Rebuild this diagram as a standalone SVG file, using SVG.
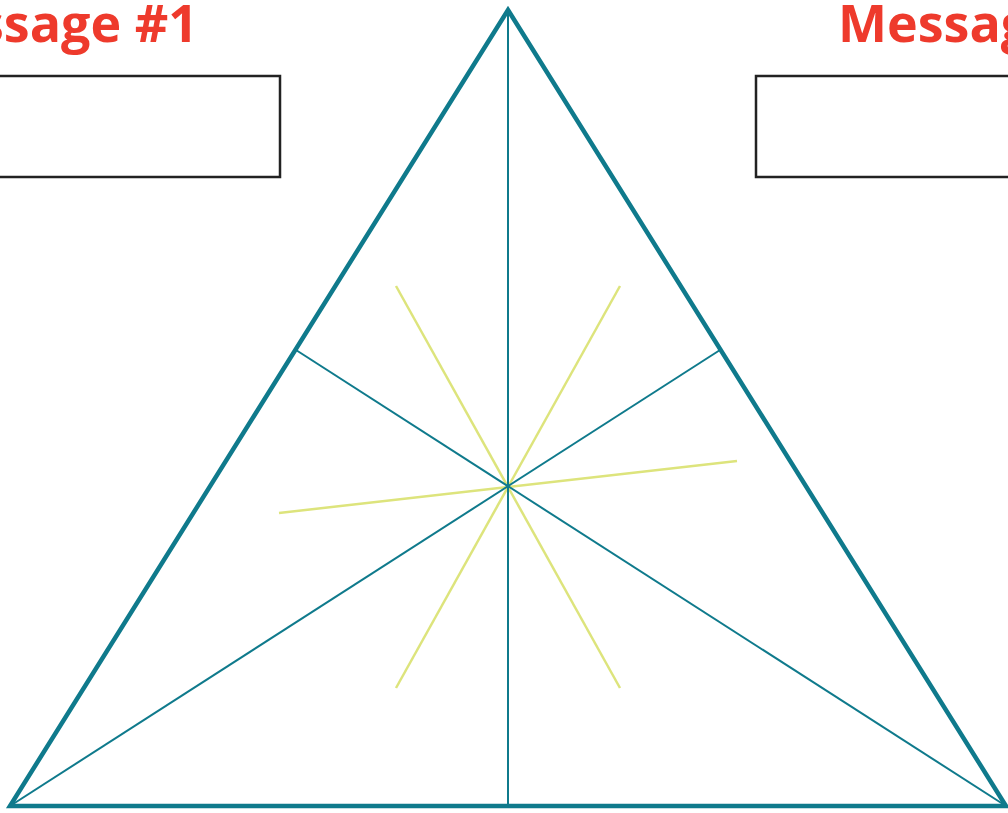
<svg xmlns="http://www.w3.org/2000/svg" width="1008" height="813" viewBox="0 0 1008 813">
<style>
.title{font-family:"Open Sans","Liberation Sans",sans-serif;font-weight:bold;font-size:52px;fill:#ee3a2c}
.box{fill:#fff;stroke:#222;stroke-width:2.5}
.tri{fill:none;stroke:#0f7a8c;stroke-width:4.5;stroke-linejoin:miter}
.teal{stroke:#0f7a8c;stroke-width:2}
.yel{stroke:#dde47c;stroke-width:2.5}
</style>
<rect width="1008" height="813" fill="#fff"/>
<g id="message1">
<text class="title" x="198" y="42" text-anchor="end">Message #1</text>
<rect class="box" x="-20" y="76" width="300" height="101"/>
</g>
<g id="message2">
<text class="title" x="838" y="42">Message #2</text>
<rect class="box" x="756" y="76" width="300" height="101"/>
</g>
<g id="connectors">
<line class="yel" x1="396" y1="286" x2="620" y2="688"/>
<line class="yel" x1="620" y1="286" x2="396" y2="688"/>
<line class="yel" x1="279" y1="513" x2="737" y2="461"/>
<line class="teal" x1="508" y1="10" x2="508" y2="806"/>
<line class="teal" x1="1006" y1="806" x2="296" y2="350"/>
<line class="teal" x1="10" y1="806" x2="720" y2="350"/>
</g>
<g id="triangle">
<polygon class="tri" points="508,10 1006,806 10,806"/>
</g>
</svg>
